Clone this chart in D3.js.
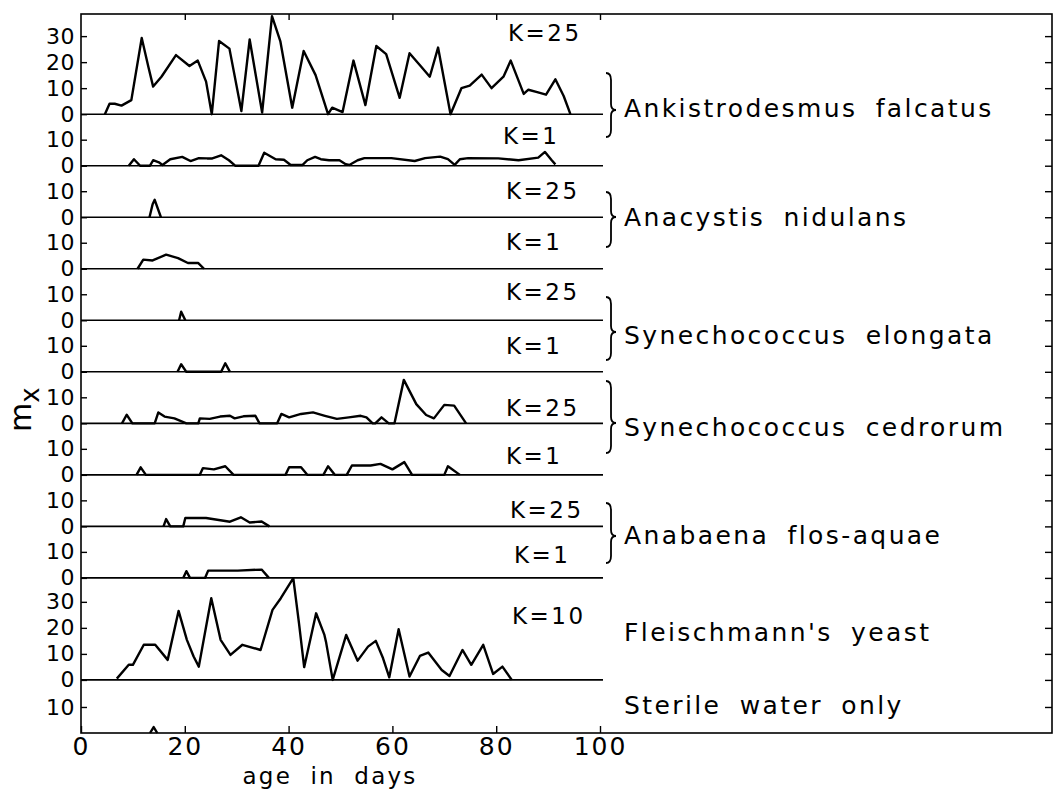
<!DOCTYPE html>
<html><head><meta charset="utf-8">
<script src="https://cdn.jsdelivr.net/npm/d3@7"></script>
<style>body{margin:0;background:#fff}</style>
</head><body>
<svg id="c" width="1058" height="791"></svg>
<script>
// ---- data: [age in days, m_x] ----
const ankistroK25 = [[4.6,0],[5.5,4],[6.5,4],[7.8,3.3],[9.7,5.4],[11.7,29.3],[13,18],[13.9,10.6],[15.5,14.4],[18.3,22.7],[20.9,18.5],[22.5,20.6],[24.1,12.5],[25.2,0],[26.6,28.1],[28.6,25.2],[30.9,1.2],[32.5,28.7],[34.9,0.6],[36.8,37.7],[38.4,28.1],[40.7,2.5],[42.9,24.3],[45.2,15],[47.6,0],[48.4,2.5],[50.4,0.8],[52.5,20.6],[54.8,3.5],[56.9,26.2],[58.8,23.1],[61.4,6.3],[63.3,23.4],[65.6,18.1],[67.2,14.4],[68.8,25.6],[71.2,0],[73.3,10],[74.9,11],[77.2,15.2],[79.1,10],[81.4,14.4],[82.8,20.6],[85.3,7.8],[86.2,9.4],[87.9,8.5],[89.6,7.5],[91.4,13.4],[93,7],[94.3,0]];
const ankistroK1 = [[9.2,0],[10.2,2.5],[11.4,0],[13.3,0],[13.9,2.1],[15,1.3],[15.7,0.3],[17.2,2.5],[19.5,3.4],[21.1,1.8],[22.7,2.9],[24.3,2.8],[25.3,2.8],[27,4],[28.5,2.1],[29.7,0],[34.2,0],[35.3,5],[37.5,2.5],[39.1,2.3],[40.4,0.3],[42.7,0.3],[43.6,2.1],[45.1,3.4],[46.2,2.5],[47.8,2.1],[49.8,2.1],[51,0.6],[51.7,0.3],[53.3,2.1],[54.6,2.9],[59.8,2.9],[64.3,1.8],[66.3,2.9],[69.2,3.5],[70.7,2.5],[72,0.3],[73,2.5],[74.6,2.9],[80.4,2.8],[84.3,2.1],[88.1,3.1],[89.4,5.3],[90.7,2.1],[91.4,0.5]];
const anacystisK25 = [[13.2,0],[13.8,5],[14.2,6.7],[15.4,0]];
const anacystisK1 = [[10.9,0],[12,3.5],[13.8,3.2],[16.4,5.4],[18.7,4.1],[20.6,2.2],[22.6,2.2],[23.7,0]];
const elongataK25 = [[18.9,0],[19.3,3.3],[20.1,0]];
const elongataK1 = [[18.6,0],[19.3,2.9],[20.3,0],[27,0],[27.8,3.3],[28.7,0]];
const cedrorumK25 = [[7.9,0],[8.8,3.3],[9.9,0],[14.2,0],[14.9,4.2],[16.1,2.6],[18,1.9],[20.3,0],[22.6,0],[22.9,1.9],[24.8,1.7],[26.8,2.6],[28.7,2.9],[29.6,1.9],[31.3,2.7],[33.6,2.9],[34.4,0],[37.8,0],[38.6,3.6],[40.1,2.3],[42.4,3.6],[44.7,4.2],[47,2.9],[49.3,1.7],[51.6,2.3],[53.9,2.9],[55,2.3],[56.2,0],[56.7,0],[57.9,2.3],[59.3,0],[60.4,0],[62.2,16.7],[64.6,7.4],[66.5,3.2],[68,1.9],[70,7.1],[71.9,6.8],[74.2,0]];
const cedrorumK1 = [[10.7,0],[11.5,2.9],[12.5,0],[22.9,0],[23.5,2.6],[25.6,2.1],[27.8,3.3],[29.4,0],[39.4,0],[40.1,2.9],[42.4,2.9],[43.6,0],[46.7,0],[47.6,3.3],[48.9,0],[51.2,0],[52.2,3.6],[55.8,3.6],[57.7,4.2],[60,2.1],[62.3,4.9],[63.8,0],[70,0],[70.7,3.3],[73,0]];
const anabaenaK25 = [[15.9,0],[16.4,2.8],[17.2,0],[19.7,0],[20.1,3.2],[24.1,3.2],[28.7,1.8],[30.8,3.5],[32.5,1.5],[34.8,1.9],[36.3,0]];
const anabaenaK1 = [[19.7,0],[20.3,2.6],[21,0],[23.9,0],[24.5,2.8],[30.2,2.8],[34.8,3.2],[36.2,0]];
const yeastK10 = [[6.9,0.5],[9.2,5.8],[10,5.8],[12.1,13.5],[14.3,13.5],[16.7,7.7],[18.8,26.5],[20.4,15.4],[21.7,9],[22.7,5.1],[25.1,31.4],[26.9,15.4],[28.8,9.6],[31.1,13.5],[34.6,11.5],[36.9,26.9],[38.5,31.4],[40.9,39.1],[42,21.8],[43,4.9],[45.3,25.6],[46.9,17.3],[47.2,14.7],[48.5,0],[51.1,17.3],[53.3,7.4],[55.3,12.8],[56.8,15],[58.2,8.3],[59.4,1],[61.2,19.5],[63.3,1.3],[65.3,9.2],[66.9,10.5],[69.5,3.8],[71,1.5],[73.5,11.5],[75.2,5.8],[77.5,13.5],[79.4,2.3],[81.2,5.1],[83,0]];
const sterileWater = [[13.3,0],[14,2.3],[14.7,0]];

const series = [ankistroK25, ankistroK1, anacystisK25, anacystisK1, elongataK25, elongataK1, cedrorumK25, cedrorumK1, anabaenaK25, anabaenaK1, yeastK10, sterileWater];
const kLabels = ["K=25","K=1","K=25","K=1","K=25","K=1","K=25","K=1","K=25","K=1","K=10",""];
const panelSpans = [38.5,19.8,19.8,19.8,19.8,19.8,19.8,19.8,19.8,19.8,39.2,20.4];
const panelTicks = [[0,10,20,30],[0,10],[0,10],[0,10],[0,10],[0,10],[0,10],[0,10],[0,10],[0,10],[0,10,20,30],[10]];
const species = ["Ankistrodesmus falcatus","Anacystis nidulans","Synechococcus elongata","Synechococcus cedrorum","Anabaena flos-aquae","Fleischmann's yeast","Sterile water only"];
const xTicks = [0,20,40,60,80,100];

// ---- layout ----
const L = 81, R = 1052, T = 14, B = 733;
const kLabelPos = [[508,33],[503,136],[506,191],[506,242],[506,292],[506,346],[506,408],[506,456],[510,510],[514,555],[512,616]];
const speciesY = [108,217,335,427,535,632,705];
const braces = [[73,137,110],[192,247,217],[297,360,332],[381,453,423],[503,563,536]];

const FONT = "DejaVu Sans";
const svg = d3.select("#c");
const x = d3.scaleLinear().domain([0,100]).range([L,600]);
const total = d3.sum(panelSpans);
const yU = d3.scaleLinear().domain([0,total]).range([T,B]);

let cum = 0;
const panels = series.map((d,i) => {
  const top = cum; cum += panelSpans[i];
  const y = d3.scaleLinear().domain([0,panelSpans[i]]).range([yU(cum), yU(top)]);
  return {data:d, y, ticks:panelTicks[i], k:kLabels[i]};
});

// frame
svg.append("rect").attr("x",L).attr("y",T).attr("width",R-L).attr("height",B-T)
  .attr("fill","none").attr("stroke","#000").attr("stroke-width",1.6);

panels.forEach((p,i) => {
  if (i < panels.length-1) {
    svg.append("line").attr("x1",L).attr("x2",x(100)+3)
      .attr("y1",p.y(0)).attr("y2",p.y(0)).attr("stroke","#000").attr("stroke-width",1.6);
  }
  const gl = svg.append("g").attr("transform",`translate(${L},0)`)
    .call(d3.axisLeft(p.y).tickValues(p.ticks).tickSizeInner(-6).tickSizeOuter(0).tickPadding(6).tickFormat(d3.format("d")));
  gl.select(".domain").remove();
  gl.selectAll("line").attr("stroke","#000").attr("stroke-width",1.4);
  gl.selectAll("text").attr("font-family",FONT).attr("font-size",22).attr("letter-spacing",0.5).attr("fill","#000");
  const gr = svg.append("g").attr("transform",`translate(${R},0)`)
    .call(d3.axisRight(p.y).tickValues(p.ticks).tickSizeInner(-7).tickSizeOuter(0).tickFormat(""));
  gr.select(".domain").remove();
  gr.selectAll("line").attr("stroke","#000").attr("stroke-width",1.4);
  svg.append("path").datum(p.data)
    .attr("d", d3.line().x(d=>x(d[0])).y(d=>p.y(d[1])))
    .attr("fill","none").attr("stroke","#000").attr("stroke-width",2.4).attr("stroke-linejoin","round");
  if (p.k) {
    svg.append("text").attr("x",kLabelPos[i][0]).attr("y",kLabelPos[i][1])
      .attr("dominant-baseline","central").attr("font-family",FONT).attr("font-size",23)
      .attr("letter-spacing",2.5).text(p.k);
  }
});

// x axis bottom
const gb = svg.append("g").attr("transform",`translate(0,${B})`)
  .call(d3.axisBottom(x).tickValues(xTicks).tickSizeInner(-7).tickSizeOuter(0).tickPadding(4));
gb.select(".domain").remove();
gb.selectAll("line").attr("stroke","#000").attr("stroke-width",1.4);
gb.selectAll("text").attr("font-family",FONT).attr("font-size",25).attr("letter-spacing",2).attr("fill","#000");
// top ticks
const gt = svg.append("g").attr("transform",`translate(0,${T})`)
  .call(d3.axisTop(x).tickValues(xTicks.slice(1)).tickSizeInner(-6).tickSizeOuter(0).tickFormat(""));
gt.select(".domain").remove();
gt.selectAll("line").attr("stroke","#000").attr("stroke-width",1.4);

// x label
svg.append("text").attr("x",330).attr("y",784).attr("text-anchor","middle")
  .attr("font-family",FONT).attr("font-size",23).attr("letter-spacing",2.2).attr("word-spacing",9).text("age in days");

// y label m_x
const yl = svg.append("text").attr("transform","translate(31,432) rotate(-90)")
  .attr("font-family",FONT).attr("font-size",30);
yl.append("tspan").text("m");
yl.append("tspan").attr("dy",8).attr("font-size",26).text("x");

// braces
braces.forEach(([y0,y1,ym]) => {
  const x0 = 606, xm = 611, xc = 616;
  const d = `M${x0},${y0} Q${xm},${y0} ${xm},${y0+7} L${xm},${ym-6} Q${xm},${ym} ${xc},${ym} Q${xm},${ym} ${xm},${ym+6} L${xm},${y1-7} Q${xm},${y1} ${x0},${y1}`;
  svg.append("path").attr("d",d).attr("fill","none").attr("stroke","#000").attr("stroke-width",1.8);
});

// species labels
species.forEach((s,i) => {
  svg.append("text").attr("x",624).attr("y",speciesY[i]).attr("dominant-baseline","central")
    .attr("font-family",FONT).attr("font-size",25).attr("letter-spacing",2.4).attr("word-spacing",8).text(s);
});
</script>
</body></html>
